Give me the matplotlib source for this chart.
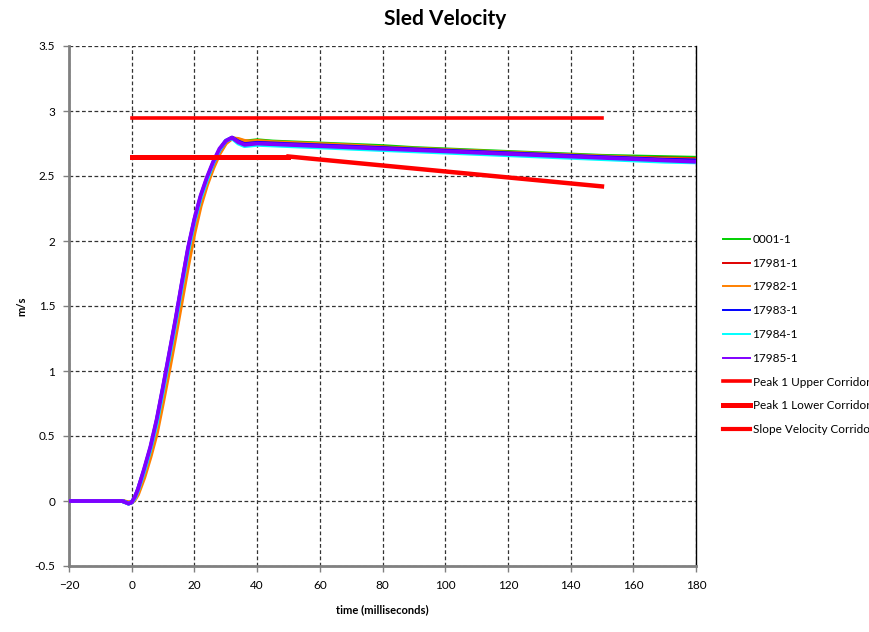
import matplotlib
matplotlib.use("Agg")
import matplotlib.pyplot as plt

plt.rcParams['font.family'] = ['Lato', 'DejaVu Sans']

# ---- data ----
t = [-20, -10, -3, -1, 0, 1, 2, 4, 6, 8, 10, 12, 14, 16, 18, 20, 22, 24, 26, 28,
     30, 32, 34, 36, 38, 40, 45, 50, 60, 70, 80, 90, 100, 110, 120, 130, 140, 150,
     160, 170, 180]

v_0001 = [0, 0, 0, -0.015, -0.01, 0.02, 0.07, 0.22, 0.38, 0.58, 0.82, 1.08, 1.34, 1.61, 1.88,
          2.12, 2.31, 2.46, 2.59, 2.69, 2.76, 2.79, 2.78, 2.765, 2.77, 2.775, 2.765, 2.76,
          2.75, 2.74, 2.73, 2.715, 2.705, 2.695, 2.685, 2.675, 2.665, 2.655, 2.65, 2.645, 2.64]
v_17981 = [0, 0, 0, -0.015, -0.01, 0.02, 0.07, 0.21, 0.37, 0.57, 0.81, 1.07, 1.33, 1.60, 1.87,
           2.11, 2.30, 2.45, 2.58, 2.68, 2.76, 2.79, 2.775, 2.76, 2.76, 2.765, 2.755, 2.75,
           2.74, 2.73, 2.72, 2.705, 2.695, 2.685, 2.675, 2.665, 2.655, 2.645, 2.64, 2.635, 2.63]
v_17982 = [0, 0, 0, -0.01, -0.01, 0.01, 0.05, 0.18, 0.34, 0.52, 0.76, 1.01, 1.27, 1.54, 1.81,
           2.06, 2.27, 2.43, 2.56, 2.67, 2.75, 2.79, 2.785, 2.77, 2.765, 2.77, 2.76, 2.755,
           2.745, 2.735, 2.72, 2.71, 2.70, 2.69, 2.68, 2.67, 2.66, 2.65, 2.64, 2.63, 2.625]
v_17983 = [0, 0, 0, -0.02, -0.01, 0.03, 0.09, 0.24, 0.41, 0.62, 0.87, 1.13, 1.39, 1.67, 1.94,
           2.16, 2.34, 2.48, 2.60, 2.70, 2.77, 2.795, 2.765, 2.745, 2.75, 2.755, 2.75, 2.745,
           2.735, 2.725, 2.715, 2.705, 2.695, 2.685, 2.675, 2.665, 2.655, 2.645, 2.635, 2.625, 2.62]
v_17984 = [0, 0, 0, -0.02, -0.01, 0.02, 0.08, 0.23, 0.40, 0.60, 0.85, 1.11, 1.37, 1.65, 1.92,
           2.15, 2.33, 2.47, 2.60, 2.70, 2.77, 2.79, 2.75, 2.73, 2.735, 2.74, 2.735, 2.73,
           2.72, 2.71, 2.70, 2.69, 2.68, 2.67, 2.66, 2.65, 2.64, 2.63, 2.62, 2.61, 2.605]
v_17985 = [0, 0, 0, -0.02, -0.01, 0.03, 0.09, 0.25, 0.42, 0.63, 0.88, 1.14, 1.40, 1.68, 1.95,
           2.17, 2.35, 2.49, 2.61, 2.71, 2.77, 2.795, 2.76, 2.74, 2.745, 2.75, 2.745, 2.74,
           2.73, 2.72, 2.71, 2.70, 2.69, 2.68, 2.67, 2.66, 2.65, 2.64, 2.63, 2.62, 2.61]

upper_t = [0, 150]
upper_v = [2.95, 2.95]
lower_t = [0, 50]
lower_v = [2.65, 2.65]
slope_t = [50, 150]
slope_v = [2.65, 2.42]

series = [
    ("0001-1", v_0001, "#00D000"),
    ("17981-1", v_17981, "#E00000"),
    ("17982-1", v_17982, "#FF8000"),
    ("17983-1", v_17983, "#0000FF"),
    ("17984-1", v_17984, "#00FFFF"),
    ("17985-1", v_17985, "#8000FF"),
]

xticks = [-20, 0, 20, 40, 60, 80, 100, 120, 140, 160, 180]
yticks = [-0.5, 0, 0.5, 1, 1.5, 2, 2.5, 3, 3.5]
ytick_labels = ["-0.5", "0", "0.5", "1", "1.5", "2", "2.5", "3", "3.5"]

# ---- figure ----
fig = plt.figure(figsize=(8.69, 6.32), dpi=100)
ax = fig.add_axes([69/869, 66/632, 627/869, 520/632])

handles = []
for name, vals, col in series:
    ax.plot(t, vals, color=col, lw=2.8, solid_capstyle='butt', zorder=3)
    h, = ax.plot([], [], color=col, lw=1.4, label=name)
    handles.append(h)

ax.plot(upper_t, upper_v, color="#FF0000", lw=2.6, zorder=4)
ax.plot(lower_t, lower_v, color="#FF0000", lw=3.6, zorder=4)
ax.plot(slope_t, slope_v, color="#FF0000", lw=3.2, zorder=4)
handles.append(ax.plot([], [], color="#FF0000", lw=2.6, label="Peak 1 Upper Corridor")[0])
handles.append(ax.plot([], [], color="#FF0000", lw=3.6, label="Peak 1 Lower Corridor")[0])
handles.append(ax.plot([], [], color="#FF0000", lw=3.0, label="Slope Velocity Corridor")[0])

ax.set_xlim(-20, 180)
ax.set_ylim(-0.5, 3.5)
ax.set_xticks(xticks)
ax.set_yticks(yticks)
ax.set_yticklabels(ytick_labels)
ax.tick_params(axis='both', labelsize=8.5, length=4, width=1, color='#808080', direction='out')
ax.tick_params(axis='x', pad=6)
ax.tick_params(axis='y', pad=6)

ax.grid(True, color='#333333', linestyle=(0, (3, 2)), linewidth=0.9)
ax.set_axisbelow(True)

ax.spines['left'].set_color('#808080')
ax.spines['left'].set_linewidth(2)
ax.spines['bottom'].set_color('#808080')
ax.spines['bottom'].set_linewidth(2)
ax.spines['right'].set_color('black')
ax.spines['right'].set_linewidth(1)
ax.spines['top'].set_visible(False)

ax.set_xlabel("time (milliseconds)", fontsize=8, fontweight='bold')
ax.xaxis.set_label_coords(0.5, -(610 - 566) / 520)
ax.xaxis.label.set_va('center')
ax.set_ylabel("m/s", fontsize=8, fontweight='bold')
ax.yaxis.set_label_coords(-(69 - 22) / 627, 0.5)
ax.yaxis.label.set_va('center')

fig.text(0.512, 0.970, "Sled Velocity", ha='center', va='center', fontsize=15, fontweight='bold')

fig.legend(handles=handles, loc='upper left', bbox_to_anchor=(723/869, 1 - 234/632),
           frameon=False, fontsize=8.5, handlelength=2.3, handletextpad=0.2,
           labelspacing=1.08, borderaxespad=0, borderpad=0)

fig.savefig("out.png", dpi=100)
